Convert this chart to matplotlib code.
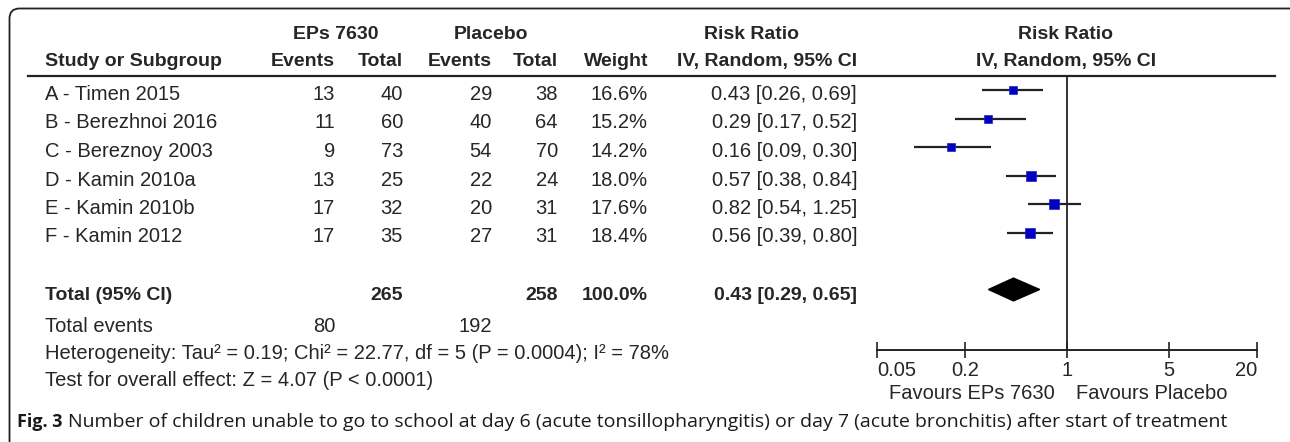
import numpy as np
import matplotlib
matplotlib.use("Agg")
import matplotlib.pyplot as plt
from matplotlib.patches import FancyBboxPatch, Polygon

# ----------------------------
# data
# ----------------------------
studies = ["A - Timen 2015", "B - Berezhnoi 2016", "C - Bereznoy 2003",
           "D - Kamin 2010a", "E - Kamin 2010b", "F - Kamin 2012"]
eps_events = [13, 11, 9, 13, 17, 17]
eps_total = [40, 60, 73, 25, 32, 35]
pla_events = [29, 40, 54, 22, 20, 27]
pla_total = [38, 64, 70, 24, 31, 31]
weights = [16.6, 15.2, 14.2, 18.0, 17.6, 18.4]
rr = [0.43, 0.29, 0.16, 0.57, 0.82, 0.56]
rr_lo = [0.26, 0.17, 0.09, 0.38, 0.54, 0.39]
rr_hi = [0.69, 0.52, 0.30, 0.84, 1.25, 0.80]

total_eps = 265
total_pla = 258
total_weight = 100.0
total_rr = 0.43
total_lo = 0.29
total_hi = 0.65
sum_events_eps = 80
sum_events_pla = 192

het_text = "Heterogeneity: Tau\u00b2 = 0.19; Chi\u00b2 = 22.77, df = 5 (P = 0.0004); I\u00b2 = 78%"
test_text = "Test for overall effect: Z = 4.07 (P < 0.0001)"
xticks = [0.05, 0.2, 1, 5, 20]
xtick_labels = ["0.05", "0.2", "1", "5", "20"]
favours_left = "Favours EPs 7630"
favours_right = "Favours Placebo"
caption_bold = "Fig. 3"
caption_rest = ("Number of children unable to go to school at day 6 (acute tonsillopharyngitis) "
                "or day 7 (acute bronchitis) after start of treatment")

# ----------------------------
# layout (pixels)
# ----------------------------
W, H = 1290, 442
ROW0, STEP = 90, 28.5          # marker centre of first study row, row spacing
TXT_OFF = 10                   # baseline offset of text below row centre
TOTAL_ROW = 7
X_NAME = 45
X_EPS_EV, X_EPS_TOT = 335, 403
X_PLA_EV, X_PLA_TOT = 492, 558
X_WEIGHT, X_CI = 648, 857
TXT = "#262626"
FS = 14.5
FONT = "Liberation Sans"
CAP_FONT = ["Open Sans", "DejaVu Sans"]

plt.rcParams["font.family"] = [FONT, "DejaVu Sans"]

fig = plt.figure(figsize=(W / 100, H / 100), dpi=100)
ax = fig.add_axes([0, 0, 1, 1])
ax.set_xlim(0, W)
ax.set_ylim(H, 0)
ax.axis("off")


def row_base(i):
    return ROW0 + STEP * i + TXT_OFF


def put(x, y, s, ha="right", bold=False, **kw):
    ax.text(x, y, s, ha=ha, va="baseline", fontsize=FS - (0.5 if bold else 0),
            fontweight="bold" if bold else "normal", color=TXT, **kw)


# border (rounded box, right and bottom edges run off the picture)
ax.add_patch(FancyBboxPatch((9.5, 8.5), 1290, 470,
                            boxstyle="round,pad=0,rounding_size=10",
                            fc="none", ec="#222222", lw=1.3, clip_on=True))

# headers
put(336, 39, "EPs 7630", ha="center", bold=True)
put(491, 39, "Placebo", ha="center", bold=True)
put(751, 39, "Risk Ratio", ha="center", bold=True)
put(1066, 39, "Risk Ratio", ha="center", bold=True)
put(X_NAME, 66, "Study or Subgroup", ha="left", bold=True)
put(X_EPS_EV, 66, "Events", bold=True)
put(X_EPS_TOT, 66, "Total", bold=True)
put(X_PLA_EV, 66, "Events", bold=True)
put(X_PLA_TOT, 66, "Total", bold=True)
put(X_WEIGHT, 66, "Weight", bold=True)
put(X_CI, 66, "IV, Random, 95% CI", bold=True)
put(1066, 66, "IV, Random, 95% CI", ha="center", bold=True)
ax.plot([28, 1275], [76, 76], color="#222222", lw=1.6)

# study rows
for i, name in enumerate(studies):
    y = row_base(i)
    put(X_NAME, y, name, ha="left")
    put(X_EPS_EV, y, str(eps_events[i]))
    put(X_EPS_TOT, y, str(eps_total[i]))
    put(X_PLA_EV, y, str(pla_events[i]))
    put(X_PLA_TOT, y, str(pla_total[i]))
    put(X_WEIGHT, y, f"{weights[i]:.1f}%")
    put(X_CI, y, f"{rr[i]:.2f} [{rr_lo[i]:.2f}, {rr_hi[i]:.2f}]")

# total row
y = row_base(TOTAL_ROW)
put(X_NAME, y, "Total (95% CI)", ha="left", bold=True)
put(X_EPS_TOT, y, str(total_eps), bold=True)
put(X_PLA_TOT, y, str(total_pla), bold=True)
put(X_WEIGHT, y, f"{total_weight:.1f}%", bold=True)
put(X_CI, y, f"{total_rr:.2f} [{total_lo:.2f}, {total_hi:.2f}]", bold=True)

# footer
y = row_base(TOTAL_ROW + 1.15)
put(X_NAME, y, "Total events", ha="left")
put(X_EPS_EV, y, str(sum_events_eps))
put(X_PLA_EV, y, str(sum_events_pla))
put(X_NAME, row_base(TOTAL_ROW + 2.1), het_text, ha="left")
put(X_NAME, row_base(TOTAL_ROW + 3.05), test_text, ha="left")

# caption
t1 = ax.text(17, 427, caption_bold, ha="left", va="baseline", fontsize=13,
             fontweight="bold", color="#1a1a1a", family=CAP_FONT)
ax.annotate(caption_rest, xy=(1, 0), xycoords=t1, xytext=(4, 0),
            textcoords="offset points", ha="left", va="bottom", fontsize=14,
            color="#1a1a1a", family=CAP_FONT)

# ----------------------------
# forest plot
# ----------------------------
x_left, x_right = 877, 1257
y_top, y_axis = 76, 350
fax = fig.add_axes([x_left / W, 1 - y_axis / H, (x_right - x_left) / W, (y_axis - y_top) / H])
fax.patch.set_alpha(0)
fax.set_xscale("log")
fax.set_xlim(xticks[0], xticks[-1])
fax.set_ylim((y_axis - ROW0) / STEP, (y_top - ROW0) / STEP)
for s in ["top", "left", "right"]:
    fax.spines[s].set_visible(False)
fax.spines["bottom"].set_linewidth(1.4)
fax.spines["bottom"].set_color("#222222")
fax.set_yticks([])
fax.set_xticks(xticks)
fax.set_xticklabels(xtick_labels)
fax.minorticks_off()
fax.tick_params(axis="x", direction="inout", length=12, width=1.2, color="#222222",
                labelsize=FS, labelcolor=TXT, pad=2)
labels = fax.get_xticklabels()
labels[0].set_ha("left")
labels[-1].set_ha("right")

fax.axvline(1, color="#222222", lw=1.3)

rows = np.arange(len(studies))
fax.hlines(rows, rr_lo, rr_hi, color="#222222", lw=1.6)
for i in rows:
    side = 9.3 * np.sqrt(weights[i] / max(weights)) * 0.72
    fax.plot(rr[i], i, marker="s", ms=side, mfc="#0000c0", mec="#2020d0", mew=0.5)

half = 0.4
fax.add_patch(Polygon([(total_lo, TOTAL_ROW), (total_rr, TOTAL_ROW - half),
                       (total_hi, TOTAL_ROW), (total_rr, TOTAL_ROW + half)],
                      closed=True, fc="black", ec="black"))

fax.annotate(favours_left, xy=(1, 0), xycoords=("data", "axes fraction"),
             xytext=(-8.5, -35), textcoords="offset points", ha="right", va="baseline",
             fontsize=FS, color=TXT, annotation_clip=False)
fax.annotate(favours_right, xy=(1, 0), xycoords=("data", "axes fraction"),
             xytext=(6.5, -35), textcoords="offset points", ha="left", va="baseline",
             fontsize=FS, color=TXT, annotation_clip=False)

fig.savefig("out.png", dpi=100)
